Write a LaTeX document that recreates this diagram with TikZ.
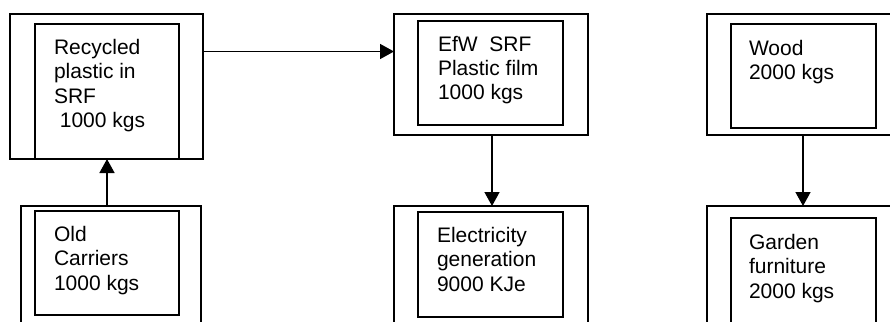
\documentclass[tikz,border=0pt]{standalone}
\usepackage{fontspec}
\setmainfont{Liberation Sans}
\usetikzlibrary{arrows.meta}
\begin{document}
\begin{tikzpicture}[x=1pt,y=-1pt,
 outerbox/.style={draw, line width=1.4pt, rectangle, inner sep=0pt, outer sep=0pt, anchor=north west},
 innerbox/.style={draw, line width=1.7pt, rectangle, inner sep=0pt, outer sep=0pt, anchor=north west},
 boxtext/.style={anchor=north west, inner sep=0pt, outer sep=0pt, align=left, font=\fontsize{21}{24.4}\selectfont},
 arr/.style={line width=1.5pt, -{Triangle[length=14pt,width=15pt]}}]
\useasboundingbox (0,0) rectangle (890,321);
\clip (0,0) rectangle (890,321);
% top row
\node[outerbox, minimum width=193pt, minimum height=145pt] (o1) at (10,14) {};
\node[innerbox, minimum width=144pt, minimum height=135pt] (i1) at (35,24) {};
\node[outerbox, minimum width=194pt, minimum height=121pt] (o2) at (394,14) {};
\node[innerbox, minimum width=145pt, minimum height=104pt] (i2) at (418,21) {};
\node[outerbox, minimum width=200pt, minimum height=121pt] (o3) at (707,14) {};
\node[innerbox, minimum width=145pt, minimum height=104pt] (i3) at (731,24) {};
% bottom row
\node[outerbox, minimum width=180pt, minimum height=130pt] (o4) at (21,206) {};
\node[innerbox, minimum width=144pt, minimum height=104pt] (i4) at (35,211) {};
\node[outerbox, minimum width=194pt, minimum height=130pt] (o5) at (394,206) {};
\node[innerbox, minimum width=145pt, minimum height=105pt] (i5) at (418,212) {};
\node[outerbox, minimum width=200pt, minimum height=130pt] (o6) at (707,206) {};
\node[innerbox, minimum width=145pt, minimum height=120pt] (i6) at (731,218) {};
% texts
\node[boxtext] (t1) at (54,39) {Recycled\\plastic in\\SRF\\~1000 kgs};
\node[boxtext] (t2) at (438,36) {EfW\ \ SRF\\Plastic film\\1000 kgs};
\node[boxtext] (t3) at (749,40) {Wood\\2000 kgs};
\node[boxtext] (t4) at (54,226) {Old\\Carriers\\1000 kgs};
\node[boxtext] (t5) at (437,227) {Electricity\\generation\\9000 KJe};
\node[boxtext] (t6) at (749,234) {Garden\\furniture\\2000 kgs};
% connectors
\coordinate (c1) at (107,0);
\coordinate (c2) at (0,51.5);
\coordinate (c3) at (492,0);
\coordinate (c4) at (803,0);
\draw[arr] (o4.north -| c1) -- (o1.south -| c1);
\draw[arr] (o1.east |- c2) -- (o2.west |- c2);
\draw[arr] (o2.south -| c3) -- (o5.north -| c3);
\draw[arr] (o3.south -| c4) -- (o6.north -| c4);
\end{tikzpicture}
\end{document}
